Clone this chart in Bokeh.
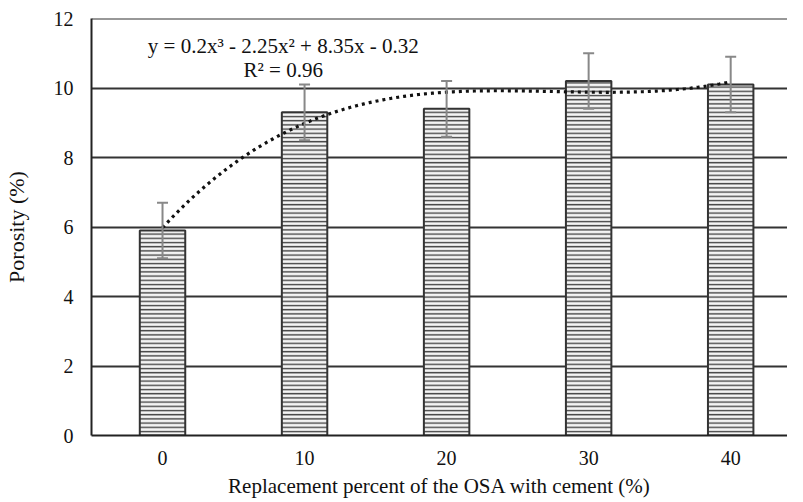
from bokeh.plotting import figure
from bokeh.models import ColumnDataSource, Range1d, FixedTicker, Whisker, TeeHead, Span
from bokeh.core.properties import value
from bokeh.embed import file_html
from bokeh.resources import INLINE
import numpy as np

# ---- data ----
categories = ["0", "10", "20", "30", "40"]
porosity = [5.9, 9.3, 9.4, 10.2, 10.1]
errors = [0.8, 0.8, 0.8, 0.8, 0.8]
y_ticks = [0, 2, 4, 6, 8, 10, 12]
trend_coeffs = [0.2, -2.25, 8.35, -0.32]   # cubic trendline as printed on the chart
equation_lines = ["y = 0.2x\u00b3 - 2.25x\u00b2 + 8.35x - 0.32", "R\u00b2 = 0.96"]
x_label = "Replacement percent of the OSA with cement (%)"
y_label = "Porosity (%)"

FONT = "'Liberation Serif', 'Times New Roman', serif"
pos = list(range(1, len(categories) + 1))

src = ColumnDataSource(dict(
    x=pos, top=porosity,
    upper=[v + e for v, e in zip(porosity, errors)],
    lower=[v - e for v, e in zip(porosity, errors)],
))

p = figure(width=787, height=500, output_backend="svg", toolbar_location=None,
           x_range=Range1d(0.5, 5.4), y_range=Range1d(0, 12),
           min_border_left=84, min_border_right=0, min_border_top=18, min_border_bottom=65)
p.outline_line_color = None
p.background_fill_color = "white"

# grid
p.xgrid.grid_line_color = None
p.ygrid.grid_line_color = "#333333"
p.ygrid.grid_line_width = 1.8
p.add_layout(Span(location=12, dimension="width", line_color="#333333", line_width=1.8))

# axes
p.xaxis.ticker = FixedTicker(ticks=pos)
p.xaxis.major_label_overrides = {i: c for i, c in zip(pos, categories)}
p.yaxis.ticker = FixedTicker(ticks=y_ticks)
for ax in (p.xaxis, p.yaxis):
    ax.major_tick_line_color = None
    ax.minor_tick_line_color = None
    ax.major_tick_out = 0
    ax.major_tick_in = 0
    ax.axis_line_color = "#222222"
    ax.axis_line_width = 2
    ax.major_label_text_font = FONT
    ax.major_label_text_font_size = "20px"
    ax.major_label_text_color = "#111111"
    ax.axis_label_text_font = FONT
    ax.axis_label_text_font_style = "normal"
    ax.axis_label_text_color = "#111111"
p.xaxis.axis_label = x_label
p.yaxis.axis_label = y_label
p.xaxis.axis_label_text_font_size = "21px"
p.yaxis.axis_label_text_font_size = "22px"
p.xaxis.major_label_standoff = 15
p.xaxis.axis_label_standoff = 6
p.yaxis.major_label_standoff = 18
p.yaxis.axis_label_standoff = 22

# bars
p.vbar(x="x", top="top", width=0.32, bottom=0, source=src,
       fill_color="#f4f4f4", line_color="#333333", line_width=2,
       hatch_pattern="horizontal_line", hatch_scale=4.2, hatch_weight=1.4,
       hatch_color="#444444")

# error bars
wh = Whisker(base="x", upper="upper", lower="lower", source=src,
             line_color="#888888", line_width=2,
             upper_head=TeeHead(size=11, line_color="#888888", line_width=2),
             lower_head=TeeHead(size=11, line_color="#888888", line_width=2))
wh.level = "glyph"
p.add_layout(wh)

# polynomial trendline
tx = np.linspace(pos[0], pos[-1], 300)
ty = np.polyval(trend_coeffs, tx)
p.line(tx, ty, line_color="#111111", line_width=3.2, line_dash="3 4")

# equation text
p.text(x=[1.85, 1.85], y=[11.22, 10.53], text=equation_lines,
       text_font=value(FONT), text_font_size="21px", text_color="#111111",
       text_align="center", text_baseline="middle")

open("out.html", "w").write(file_html(p, INLINE))
